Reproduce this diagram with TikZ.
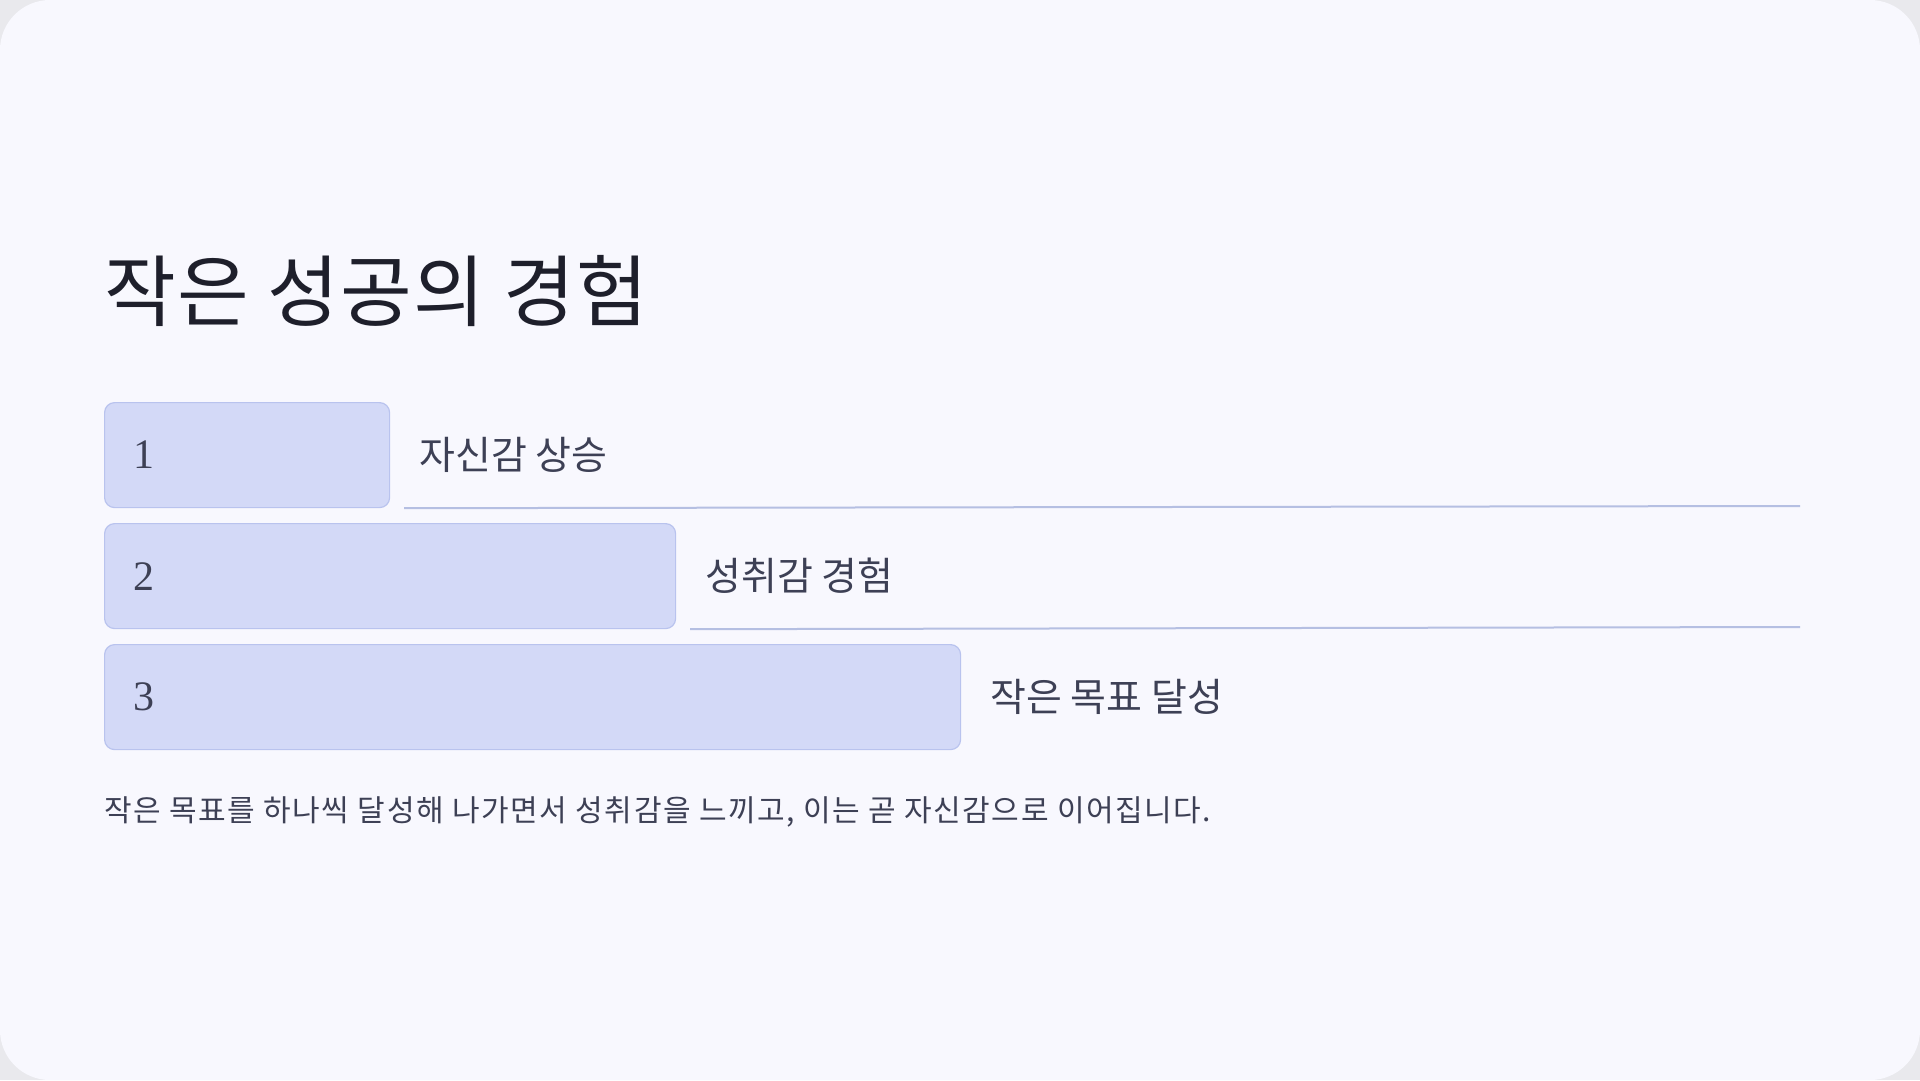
\documentclass[tikz,border=0pt]{standalone}
\usepackage{fontspec}
\setmainfont{Liberation Serif}
\newfontfamily\kr{Noto Sans CJK KR}
\usetikzlibrary{positioning}
\definecolor{pagebg}{HTML}{F8F8FE}
\definecolor{outerbg}{HTML}{E9E9ED}
\definecolor{barfill}{HTML}{D3D9F7}
\definecolor{barline}{HTML}{B9C3EE}
\definecolor{rulecol}{HTML}{B5BFE2}
\definecolor{titlecol}{HTML}{1E1F2B}
\definecolor{textcol}{HTML}{3D4055}

\begin{document}
\begin{tikzpicture}[x=1pt,y=-1pt,
    bar/.style={draw=barline,line width=1.2pt,fill=barfill,rounded corners=10pt,anchor=north west,
      minimum height=105pt,inner xsep=29pt,align=left,text=textcol,font=\fontsize{42}{42}\selectfont},
    steplabel/.style={inner sep=0pt,text=textcol,font=\kr\fontsize{39}{44}\selectfont},
    underline/.style={draw=rulecol,line width=2pt}]
  \useasboundingbox (0,0) rectangle (1920,1080);
  \fill[outerbg] (0,0) rectangle (1920,1080);
  \fill[pagebg,rounded corners=50pt] (0,0) rectangle (1920,1080);

  \node[anchor=west,inner sep=0pt,text=titlecol,font=\kr\fontsize{78}{86}\selectfont\addfontfeature{LetterSpace=1.5}] (title) at (104,291) {작은 성공의 경험};

  \node[bar,text width=227pt] (box1) at (104,402) {1};
  \node[bar,text width=513pt] (box2) at (104,523) {2};
  \node[bar,text width=798pt] (box3) at (104,644) {3};

  \node[steplabel,right=29pt of box1] (lab1) {자신감 상승};
  \node[steplabel,right=29pt of box2] (lab2) {성취감 경험};
  \node[steplabel,right=29pt of box3] (lab3) {작은 목표 달성};

  \coordinate[right=14pt of box1.south east] (rule1a);
  \coordinate (rule1b) at (1800,506);
  \coordinate[right=14pt of box2.south east] (rule2a);
  \coordinate (rule2b) at (1800,627);
  \draw[underline] (rule1a) -- (rule1b);
  \draw[underline] (rule2a) -- (rule2b);

  \node[anchor=west,inner sep=0pt,text=textcol,font=\kr\fontsize{30}{34}\selectfont\addfontfeature{LetterSpace=5.3}] (note) at (104,812)
    {작은 목표를 하나씩 달성해 나가면서 성취감을 느끼고, 이는 곧 자신감으로 이어집니다.};
\end{tikzpicture}
\end{document}
